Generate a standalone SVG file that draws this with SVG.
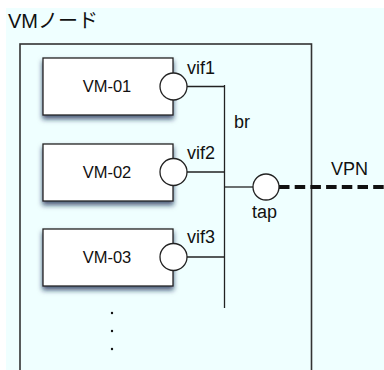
<svg xmlns="http://www.w3.org/2000/svg" width="384" height="370" viewBox="0 0 384 370">
<style>
text{font-family:"Liberation Sans","Noto Sans CJK JP",Arial,sans-serif;fill:#111;}
.lbl{font-size:18px;}
.vmt{font-size:16.5px;}
.vm{fill:#fff;stroke:#222;stroke-width:1.3;}
.port{fill:#fff;stroke:#222;stroke-width:1.3;}
.ln{stroke:#222;stroke-width:1.3;fill:none;}
</style>
<defs>
<filter id="sh" x="-20%" y="-20%" width="140%" height="160%">
<feDropShadow dx="0" dy="3.5" stdDeviation="2.5" flood-color="#16244a" flood-opacity="0.75"/>
</filter>
</defs>
<rect x="6" y="8" width="378" height="362" fill="#efffff"/>
<g id="vmnode">
<rect x="20" y="44" width="291.5" height="340" fill="none" stroke="#333" stroke-width="1.6"/>
<text x="8" y="28" style="font-size:20px">VMノード</text>
</g>
<g id="connectors">
<line class="ln" x1="187" y1="86.5" x2="224.5" y2="86.5"/>
<line class="ln" x1="187" y1="172" x2="224.5" y2="172"/>
<line class="ln" x1="187" y1="257" x2="224.5" y2="257"/>
<line class="ln" x1="224.5" y1="85" x2="224.5" y2="308"/>
<line class="ln" x1="224.5" y1="187" x2="253" y2="187"/>
<line x1="279" y1="187" x2="384" y2="187" stroke="#111" stroke-width="4" stroke-dasharray="10.5 5.2"/>
</g>
<g id="vm01">
<rect class="vm" x="43" y="58" width="130" height="57" filter="url(#sh)"/>
<text class="vmt" x="107" y="92" text-anchor="middle">VM-01</text>
</g>
<g id="vm02">
<rect class="vm" x="43" y="144" width="130" height="57" filter="url(#sh)"/>
<text class="vmt" x="107" y="178" text-anchor="middle">VM-02</text>
</g>
<g id="vm03">
<rect class="vm" x="43" y="229" width="130" height="57" filter="url(#sh)"/>
<text class="vmt" x="107" y="263" text-anchor="middle">VM-03</text>
</g>
<g id="vif1">
<circle class="port" cx="173.5" cy="86.5" r="13.5"/>
<text class="lbl" x="187" y="74">vif1</text>
</g>
<g id="vif2">
<circle class="port" cx="173.5" cy="172" r="13.5"/>
<text class="lbl" x="187" y="159">vif2</text>
</g>
<g id="vif3">
<circle class="port" cx="173.5" cy="257" r="13.5"/>
<text class="lbl" x="187" y="243">vif3</text>
</g>
<g id="br">
<text class="lbl" x="234" y="128">br</text>
</g>
<g id="tap">
<circle class="port" cx="266" cy="187" r="13"/>
<text class="lbl" x="252" y="218">tap</text>
</g>
<g id="vpn">
<text class="lbl" x="331" y="175">VPN</text>
</g>
<g id="dots" fill="#111">
<circle cx="112" cy="313" r="1.2"/>
<circle cx="112" cy="331" r="1.2"/>
<circle cx="112" cy="349" r="1.2"/>
</g>
</svg>
